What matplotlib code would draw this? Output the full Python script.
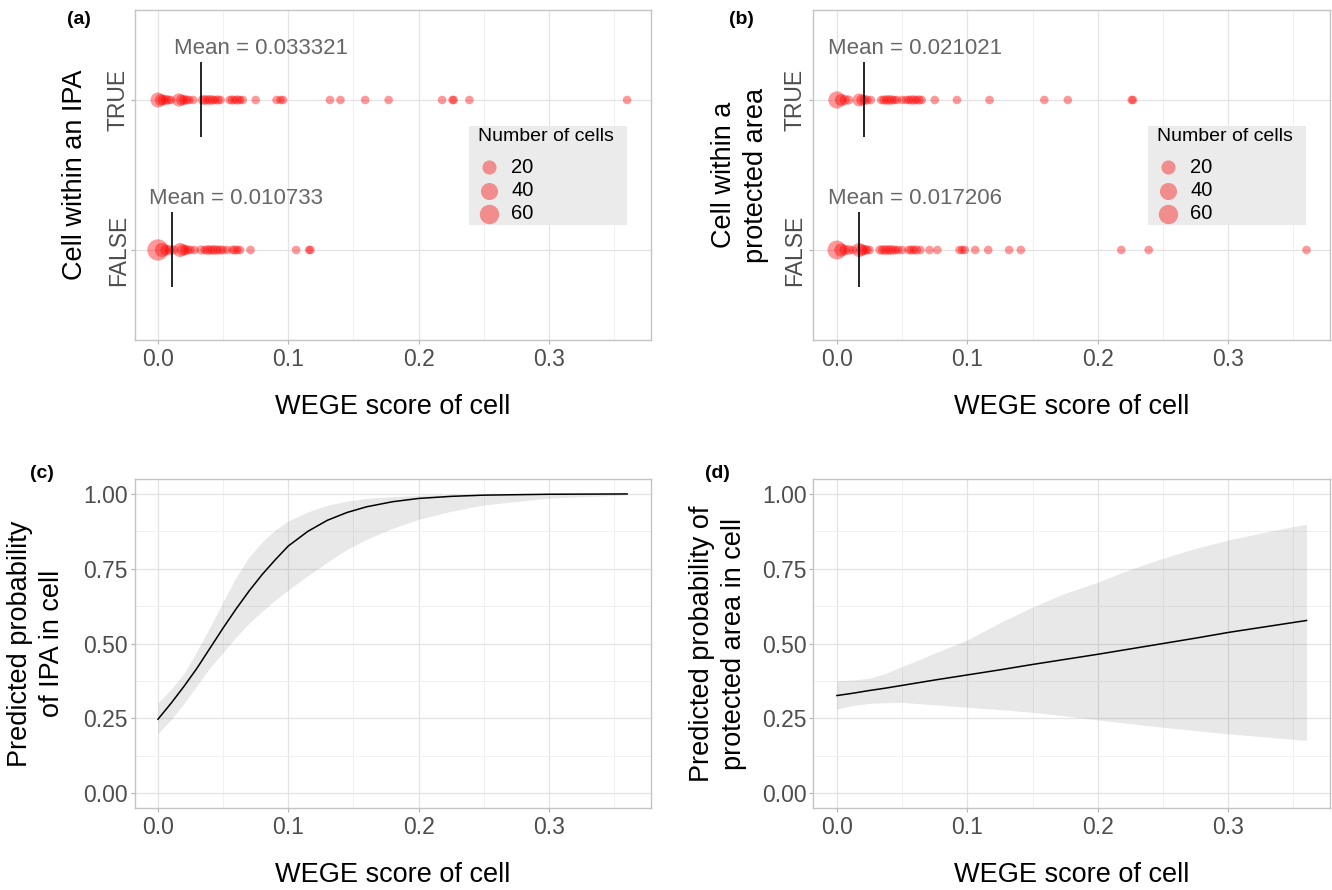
import numpy as np
import matplotlib.pyplot as plt
from matplotlib.patches import Rectangle

plt.rcParams['font.family'] = ['Liberation Sans', 'DejaVu Sans']

# ---- data ----
# (a) cells within an IPA: WEGE score and number of cells at that score
ipa_true_wege = [0.000, 0.002, 0.004, 0.006, 0.008, 0.010, 0.016, 0.018, 0.020, 0.022, 0.024, 0.027,
                 0.034, 0.036, 0.038, 0.040, 0.042, 0.044, 0.046, 0.048, 0.055, 0.057, 0.059, 0.061,
                 0.063, 0.065, 0.075, 0.091, 0.094, 0.096, 0.132, 0.140, 0.159, 0.177, 0.218, 0.226,
                 0.227, 0.239, 0.360]
ipa_true_cells = [25, 8, 5, 3, 2, 1, 15, 6, 3, 2, 1, 1,
                  2, 3, 2, 3, 2, 1, 2, 1, 1, 2, 1, 2,
                  1, 1, 1, 1, 1, 1, 1, 1, 1, 1, 1, 1,
                  1, 1, 1]
ipa_false_wege = [0.000, 0.003, 0.006, 0.009, 0.012, 0.017, 0.019, 0.021, 0.023, 0.025, 0.028,
                  0.033, 0.036, 0.038, 0.040, 0.042, 0.044, 0.046, 0.048, 0.050, 0.053, 0.057,
                  0.059, 0.061, 0.063, 0.071, 0.106, 0.116, 0.117]
ipa_false_cells = [80, 20, 6, 3, 2, 20, 8, 4, 2, 1, 1,
                   2, 1, 3, 2, 2, 3, 1, 2, 1, 1, 1,
                   2, 1, 1, 1, 1, 1, 1]
ipa_means = [0.033321, 0.010733]  # TRUE, FALSE

# (b) cells within a protected area
pa_true_wege = [0.000, 0.003, 0.006, 0.009, 0.017, 0.019, 0.021, 0.023, 0.026, 0.034, 0.036, 0.038,
                0.040, 0.042, 0.044, 0.046, 0.050, 0.053, 0.055, 0.057, 0.059, 0.061, 0.063, 0.065,
                0.075, 0.092, 0.117, 0.159, 0.177, 0.226, 0.227]
pa_true_cells = [40, 10, 4, 2, 14, 6, 3, 2, 1, 1, 2, 2,
                 3, 2, 1, 1, 1, 1, 1, 2, 2, 1, 2, 1,
                 1, 1, 1, 1, 1, 1, 1]
pa_false_wege = [0.000, 0.003, 0.006, 0.009, 0.012, 0.017, 0.019, 0.021, 0.023, 0.025, 0.033, 0.035,
                 0.037, 0.039, 0.041, 0.043, 0.045, 0.047, 0.050, 0.055, 0.057, 0.059, 0.061, 0.064,
                 0.071, 0.077, 0.094, 0.096, 0.098, 0.106, 0.116, 0.132, 0.141, 0.218, 0.239, 0.360]
pa_false_cells = [55, 15, 5, 3, 1, 20, 8, 4, 2, 1, 2, 2,
                  3, 2, 3, 2, 1, 1, 1, 1, 2, 1, 2, 1,
                  1, 1, 1, 1, 1, 1, 1, 1, 1, 1, 1, 1]
pa_means = [0.021021, 0.017206]  # TRUE, FALSE

legend_cells = [20, 40, 60]

# (c) predicted probability of IPA in cell (fit and confidence band)
ipa_fit_wege = [0.000, 0.010, 0.020, 0.030, 0.040, 0.050, 0.060, 0.070, 0.080, 0.090, 0.100,
                0.115, 0.130, 0.145, 0.160, 0.180, 0.200, 0.225, 0.250, 0.300, 0.360]
ipa_fit = [0.247, 0.300, 0.357, 0.418, 0.485, 0.552, 0.616, 0.676, 0.731, 0.780, 0.826,
           0.875, 0.912, 0.938, 0.957, 0.974, 0.985, 0.992, 0.996, 0.999, 1.000]
ipa_upper = [0.301, 0.347, 0.400, 0.475, 0.555, 0.640, 0.722, 0.790, 0.840, 0.880, 0.910,
             0.940, 0.962, 0.976, 0.985, 0.991, 0.995, 0.998, 0.999, 1.000, 1.000]
ipa_lower = [0.200, 0.245, 0.300, 0.360, 0.420, 0.470, 0.522, 0.568, 0.608, 0.645, 0.679,
             0.727, 0.772, 0.815, 0.848, 0.885, 0.915, 0.942, 0.963, 0.986, 0.997]

# (d) predicted probability of protected area in cell
pa_fit_wege = [0.000, 0.0125, 0.025, 0.0375, 0.050, 0.075, 0.100, 0.125, 0.150, 0.175, 0.200,
               0.225, 0.250, 0.275, 0.300, 0.330, 0.360]
pa_fit = [0.326, 0.334, 0.343, 0.351, 0.360, 0.378, 0.395, 0.412, 0.430, 0.447, 0.464,
          0.482, 0.500, 0.518, 0.537, 0.557, 0.577]
pa_upper = [0.376, 0.378, 0.384, 0.400, 0.423, 0.468, 0.512, 0.570, 0.622, 0.668, 0.705,
            0.748, 0.785, 0.818, 0.846, 0.874, 0.899]
pa_lower = [0.281, 0.293, 0.300, 0.302, 0.303, 0.295, 0.287, 0.279, 0.270, 0.258, 0.245,
            0.232, 0.220, 0.209, 0.198, 0.187, 0.176]

# ---- styling ----
TICK_COL = '#4D4D4D'
GRID_MAJ = '#E3E3E3'
GRID_MIN = '#F0F0F0'
BORDER = '#C4C4C4'


def size_of(n):
    d_px = 7 + 1.6 * np.sqrt(np.asarray(n, dtype=float))
    return (d_px * 0.72) ** 2


def style_axes(ax, xlabel, ylabel, ylab_x):
    ax.set_xlim(-0.018, 0.378)
    ax.set_xticks([0.0, 0.1, 0.2, 0.3], ['0.0', '0.1', '0.2', '0.3'])
    ax.set_xticks([0.05, 0.15, 0.25, 0.35], minor=True)
    ax.grid(True, which='major', color=GRID_MAJ, lw=0.9, zorder=0)
    ax.grid(True, which='minor', axis='x', color=GRID_MIN, lw=0.7, zorder=0)
    ax.set_axisbelow(True)
    for s in ax.spines.values():
        s.set_color(BORDER)
        s.set_linewidth(1.0)
    ax.tick_params(which='major', length=2.75, width=0.8, color='#B3B3B3',
                   labelcolor=TICK_COL, labelsize=16.5)
    ax.tick_params(axis='x', pad=3)
    ax.tick_params(axis='y', pad=2.2)
    ax.tick_params(which='minor', length=0)
    ax.set_xlabel(xlabel, fontsize=19.5)
    ax.xaxis.set_label_coords(0.5, -0.203)
    ax.xaxis.label.set_va('center')
    ax.set_ylabel(ylabel, fontsize=19.5, linespacing=1.3, multialignment='center')
    ax.yaxis.set_label_coords(ylab_x, 0.5)
    ax.yaxis.label.set_va('center')


def draw_dots(ax, rows, means, label_x, ylabel, ylab_x, ytick_pad):
    for yv, (wege, cells) in zip([2, 1], rows):
        ax.scatter(wege, np.full(len(wege), yv), s=size_of(cells), color='red',
                   alpha=0.4, linewidths=0, zorder=3)
    for yv, m, lx in zip([2, 1], means, label_x):
        ax.vlines(m, yv - 0.25, yv + 0.25, color='black', lw=1.2, zorder=4)
        ax.text(lx, yv + 0.345, 'Mean = %.6f' % m, color='#666666', fontsize=16,
                ha='center', va='center', zorder=5)
    ax.set_ylim(0.4, 2.6)
    ax.set_yticks([1, 2], ['FALSE', 'TRUE'])
    style_axes(ax, 'WEGE score of cell', ylabel, ylab_x)
    ax.tick_params(axis='y', pad=ytick_pad, labelsize=16.5)
    for lab in ax.get_yticklabels():
        lab.set_rotation(90)
        lab.set_ha('center')
        lab.set_va('center')

    # size legend
    ax.add_patch(Rectangle((0.648, 0.3485), 0.306, 0.30, transform=ax.transAxes,
                           facecolor='#EBEBEB', edgecolor='none', zorder=6))
    ax.text(0.666, 0.616, 'Number of cells', transform=ax.transAxes, fontsize=14,
            ha='left', va='center', zorder=7)
    for yy, n in zip([0.523, 0.452, 0.382], legend_cells):
        ax.scatter([0.687], [yy], s=size_of([n]), color='red', alpha=0.4, linewidths=0,
                   transform=ax.transAxes, zorder=7, clip_on=False)
        ax.text(0.7297, yy, str(n), transform=ax.transAxes, fontsize=14.5,
                ha='left', va='center', zorder=7)


def draw_fit(ax, wege, fit, lower, upper, ylabel, ylab_x):
    ax.fill_between(wege, lower, upper, color='#808080', alpha=0.18, linewidth=0, zorder=2)
    ax.plot(wege, fit, color='black', lw=1.1, zorder=3)
    ax.set_ylim(-0.05, 1.05)
    ax.set_yticks([0.0, 0.25, 0.5, 0.75, 1.0], ['0.00', '0.25', '0.50', '0.75', '1.00'])
    ax.set_yticks([0.125, 0.375, 0.625, 0.875], minor=True)
    style_axes(ax, 'WEGE score of cell', ylabel, ylab_x)
    ax.grid(True, which='minor', axis='y', color=GRID_MIN, lw=0.7, zorder=0)


fig = plt.figure(figsize=(13.32, 8.9), dpi=100)
ax_a = fig.add_axes([0.1010, 0.6180, 0.3874, 0.3708])
ax_b = fig.add_axes([0.6107, 0.6180, 0.3878, 0.3708])
ax_c = fig.add_axes([0.1010, 0.0921, 0.3874, 0.3697])
ax_d = fig.add_axes([0.6107, 0.0921, 0.3878, 0.3697])

draw_dots(ax_a, [(ipa_true_wege, ipa_true_cells), (ipa_false_wege, ipa_false_cells)],
          ipa_means, [0.079, 0.060], 'Cell within an IPA', -0.1153, 9.0)
draw_dots(ax_b, [(pa_true_wege, pa_true_cells), (pa_false_wege, pa_false_cells)],
          pa_means, [0.0596, 0.060], 'Cell within a\nprotected area', -0.1423, 10.5)
draw_fit(ax_c, ipa_fit_wege, ipa_fit, ipa_lower, ipa_upper,
         'Predicted probability\nof IPA in cell', -0.191)
draw_fit(ax_d, pa_fit_wege, pa_fit, pa_lower, pa_upper,
         'Predicted probability of\nprotected area in cell', -0.185)

# panel tags
for tag, (px, py) in zip(['(a)', '(b)', '(c)', '(d)'],
                         [(79, 19), (741, 19), (42, 473), (717, 473)]):
    fig.text(px / 1332, 1 - py / 890, tag, fontsize=14, fontweight='bold',
             ha='center', va='center')

fig.savefig('out.png', dpi=100)
